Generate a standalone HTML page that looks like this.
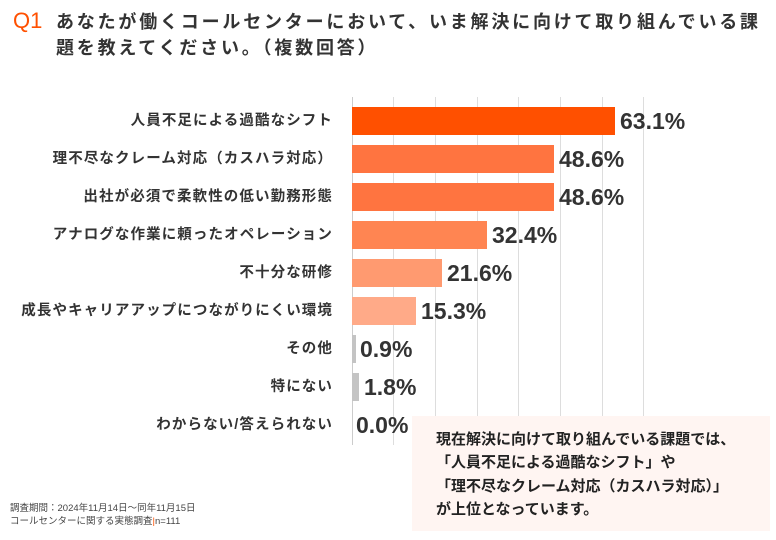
<!DOCTYPE html>
<html><head><meta charset="utf-8"><style>
body{margin:0;width:776px;height:540px;background:#fff;position:relative;overflow:hidden;font-family:"Liberation Sans","Noto Sans CJK JP",sans-serif;color:#333}
.q{position:absolute;left:13px;top:8px;color:#FF5000;font-size:22px}
.t{position:absolute;left:56px;top:9px;font-size:18px;font-weight:bold;line-height:26px;width:725px;letter-spacing:2.8px;color:#333}
.g{position:absolute;top:97px;height:348px;width:1px;background:#ddd}
.l{position:absolute;right:443px;font-size:14.5px;font-weight:bold;white-space:nowrap;line-height:28px;letter-spacing:1.1px}
.b{position:absolute;left:352px;height:28px}
.v{position:absolute;font-size:23px;line-height:28px;font-family:"Liberation Sans Narrow","Liberation Sans",sans-serif;font-weight:bold;color:#333}
.box{position:absolute;left:412px;top:416px;width:358px;height:115px;background:#FFF5F2}
.box div{position:absolute;left:24px;top:12px;font-size:15px;font-weight:bold;line-height:23.3px;color:#222;white-space:nowrap}
.f{position:absolute;left:10px;top:502px;font-size:9.5px;line-height:13px;color:#444}
</style></head><body>
<div class="q">Q1</div>
<div class="t">あなたが働くコールセンターにおいて、いま解決に向けて取り組んでいる課題を教えてください。（複数回答）</div>
<div class="g" style="left:352px;background:#ccc"></div>
<div class="g" style="left:393px"></div><div class="g" style="left:435px"></div><div class="g" style="left:477px"></div><div class="g" style="left:518px"></div><div class="g" style="left:560px"></div><div class="g" style="left:602px"></div><div class="g" style="left:643px"></div>

<div class="l" style="top:107px">人員不足による過酷なシフト</div>
<div class="b" style="top:107px;width:263px;background:#FF5000"></div>
<div class="v" style="top:107px;left:620px">63.1%</div>

<div class="l" style="top:145px">理不尽なクレーム対応（カスハラ対応）</div>
<div class="b" style="top:145px;width:202px;background:#FF7440"></div>
<div class="v" style="top:145px;left:559px">48.6%</div>

<div class="l" style="top:183px">出社が必須で柔軟性の低い勤務形態</div>
<div class="b" style="top:183px;width:202px;background:#FF7440"></div>
<div class="v" style="top:183px;left:559px">48.6%</div>

<div class="l" style="top:221px">アナログな作業に頼ったオペレーション</div>
<div class="b" style="top:221px;width:135px;background:#FF8552"></div>
<div class="v" style="top:221px;left:492px">32.4%</div>

<div class="l" style="top:259px">不十分な研修</div>
<div class="b" style="top:259px;width:90px;background:#FF9A70"></div>
<div class="v" style="top:259px;left:447px">21.6%</div>

<div class="l" style="top:297px">成長やキャリアアップにつながりにくい環境</div>
<div class="b" style="top:297px;width:64px;background:#FFAA88"></div>
<div class="v" style="top:297px;left:421px">15.3%</div>

<div class="l" style="top:335px">その他</div>
<div class="b" style="top:335px;width:4px;background:#C4C4C4"></div>
<div class="v" style="top:335px;left:360px">0.9%</div>

<div class="l" style="top:373px">特にない</div>
<div class="b" style="top:373px;width:7px;background:#C4C4C4"></div>
<div class="v" style="top:373px;left:364px">1.8%</div>

<div class="l" style="top:411px">わからない/答えられない</div>
<div class="v" style="top:411px;left:356px">0.0%</div>

<div class="box"><div>現在解決に向けて取り組んでいる課題では、<br>「人員不足による過酷なシフト」や<br>「理不尽なクレーム対応（カスハラ対応）」<br>が上位となっています。</div></div>
<div class="f">調査期間：2024年11月14日～同年11月15日<br>コールセンターに関する実態調査<span style="color:#FF5000">|</span>n=111</div>
</body></html>
